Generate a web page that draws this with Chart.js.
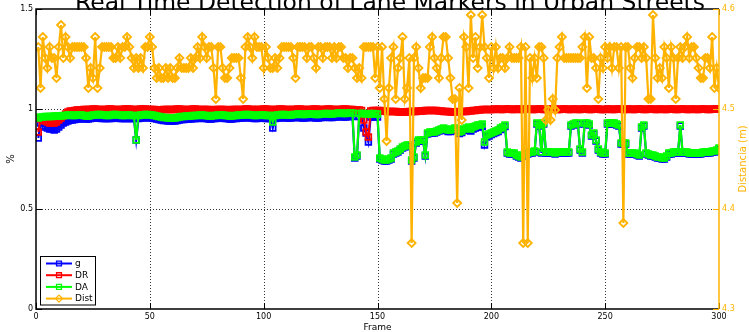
<!DOCTYPE html>
<html><head><meta charset="utf-8">
<script src="https://cdn.jsdelivr.net/npm/chart.js@4/dist/chart.umd.min.js"></script>
<style>html,body{margin:0;padding:0;background:#fff;overflow:hidden}#wrap{width:749px;height:332px;position:relative}</style>
</head><body><div id="wrap"><canvas id="c" width="749" height="332"></canvas></div>
<script>
const chartTitle = "Real Time Detection of Lane Markers in Urban Streets";
const xTitle = "Frame";
const yLeftTitle = "%";
const yRightTitle = "Distancia (m)";
const seriesNames = ["g", "DR", "DA", "Dist"];
const xTicks = [0, 50, 100, 150, 200, 250, 300];
const yLeftTicks = [0, 0.5, 1, 1.5];
const yRightTicks = [4.3, 4.4, 4.5, 4.6];
const frames = Array.from({length: 300}, (_, i) => i + 1);

const g = [
0.855,0.93,0.915,0.91,0.905,0.9,0.9,0.895,0.9,0.91,
0.92,0.93,0.935,0.94,0.945,0.945,0.948,0.95,0.95,0.952,
0.952,0.95,0.95,0.952,0.955,0.955,0.955,0.955,0.953,0.953,
0.952,0.952,0.953,0.955,0.955,0.955,0.953,0.952,0.952,0.953,
0.953,0.952,0.952,0.845,0.952,0.955,0.955,0.957,0.957,0.955,
0.955,0.952,0.95,0.948,0.945,0.943,0.942,0.94,0.94,0.94,
0.94,0.943,0.945,0.947,0.948,0.95,0.95,0.95,0.952,0.952,
0.952,0.955,0.955,0.953,0.952,0.95,0.95,0.952,0.953,0.955,
0.955,0.955,0.952,0.952,0.95,0.95,0.952,0.952,0.955,0.955,
0.955,0.957,0.957,0.955,0.955,0.952,0.952,0.955,0.955,0.955,
0.953,0.952,0.952,0.905,0.952,0.955,0.955,0.957,0.957,0.955,
0.955,0.955,0.957,0.957,0.958,0.958,0.955,0.955,0.958,0.958,
0.958,0.958,0.955,0.955,0.958,0.958,0.96,0.96,0.958,0.958,
0.96,0.96,0.962,0.962,0.96,0.96,0.962,0.962,0.962,0.755,
0.765,0.962,0.955,0.905,0.88,0.835,0.96,0.962,0.96,0.96,
0.75,0.745,0.74,0.74,0.745,0.75,0.775,0.78,0.785,0.795,
0.805,0.81,0.815,0.815,0.74,0.755,0.83,0.84,0.84,0.84,
0.765,0.875,0.88,0.88,0.88,0.885,0.89,0.895,0.9,0.893,
0.887,0.887,0.892,0.897,0.892,0.877,0.882,0.892,0.897,0.9,
0.89,0.9,0.905,0.91,0.91,0.912,0.82,0.86,0.865,0.872,
0.877,0.882,0.887,0.897,0.902,0.912,0.78,0.775,0.775,0.775,
0.765,0.76,0.755,0.765,0.775,0.775,0.78,0.78,0.785,0.925,
0.915,0.78,0.925,0.78,0.78,0.78,0.78,0.775,0.78,0.78,
0.78,0.78,0.78,0.78,0.915,0.92,0.925,0.925,0.795,0.78,
0.925,0.925,0.92,0.865,0.875,0.84,0.795,0.78,0.775,0.775,
0.925,0.925,0.925,0.925,0.92,0.915,0.825,0.825,0.825,0.775,
0.775,0.775,0.775,0.77,0.765,0.905,0.915,0.775,0.77,0.765,
0.765,0.76,0.755,0.755,0.75,0.75,0.76,0.775,0.775,0.78,
0.78,0.78,0.915,0.78,0.78,0.78,0.775,0.775,0.775,0.775,
0.775,0.775,0.78,0.78,0.78,0.78,0.785,0.785,0.79,0.8
];

const DR = [
0.885,0.95,0.945,0.94,0.935,0.93,0.93,0.93,0.935,0.945,
0.955,0.965,0.975,0.985,0.99,0.99,0.992,0.995,0.995,0.995,
0.997,0.997,0.998,0.998,1,1,0.998,0.998,0.997,0.997,
0.998,1,1,0.998,0.998,0.997,0.997,0.998,1,1,
1,0.998,0.998,0.997,0.998,1,1,1,0.998,0.998,
0.997,0.997,0.995,0.995,0.995,0.997,0.998,0.998,0.997,0.997,
0.998,1,1,0.998,0.998,0.997,0.997,0.998,1,1,
0.998,0.997,0.997,0.998,0.998,0.997,0.995,0.995,0.997,0.998,
0.998,0.997,0.997,0.995,0.995,0.997,0.998,0.998,0.997,0.997,
0.998,1,1,0.998,0.998,0.997,0.997,0.998,0.998,1,
1,0.998,0.998,0.997,0.997,0.998,1,1,0.998,0.998,
0.997,0.997,0.998,0.998,1,1,0.998,0.998,0.997,0.997,
0.998,1,1,0.998,0.998,0.997,0.998,1,1,0.998,
0.998,0.997,0.997,0.998,1,1,0.998,0.998,0.997,0.995,
0.995,0.995,0.993,0.945,0.885,0.86,0.99,0.993,0.993,0.993,
0.992,0.99,0.99,0.988,0.988,0.987,0.987,0.987,0.985,0.985,
0.985,0.985,0.985,0.987,0.987,0.988,0.988,0.99,0.99,0.99,
0.992,0.992,0.993,0.993,0.993,0.992,0.99,0.99,0.988,0.987,
0.987,0.985,0.985,0.985,0.985,0.987,0.987,0.988,0.988,0.99,
0.99,0.992,0.993,0.995,0.995,0.997,0.997,0.998,0.998,0.998,
0.998,1,1,0.998,0.998,1,1,1,0.998,0.998,
1,1,0.998,0.998,1,1,1,0.998,0.998,1,
1,1,0.998,0.998,0.998,1,1,1,0.998,0.998,
1,1,1,0.998,0.998,1,1,0.998,0.998,1,
1,1,0.998,0.998,1,1,1,0.998,0.998,0.998,
1,1,0.998,0.998,1,1,1,0.998,0.998,1,
1,0.998,0.998,1,1,1,0.998,0.998,1,1,
1,0.998,0.998,1,1,0.998,0.998,1,1,1,
0.998,0.998,1,1,1,0.998,0.998,1,1,0.998,
0.998,1,1,1,0.998,0.998,1,1,1,1
];

const DA = [
0.955,0.96,0.96,0.962,0.962,0.963,0.963,0.965,0.965,0.965,
0.965,0.968,0.968,0.97,0.97,0.968,0.968,0.97,0.97,0.97,
0.968,0.965,0.965,0.968,0.97,0.97,0.972,0.972,0.97,0.97,
0.968,0.968,0.97,0.972,0.972,0.97,0.97,0.968,0.968,0.97,
0.97,0.968,0.968,0.845,0.968,0.97,0.97,0.972,0.972,0.97,
0.97,0.968,0.965,0.962,0.96,0.958,0.958,0.955,0.955,0.955,
0.955,0.958,0.96,0.962,0.962,0.965,0.965,0.965,0.968,0.968,
0.968,0.97,0.97,0.968,0.968,0.965,0.965,0.968,0.968,0.97,
0.97,0.97,0.968,0.968,0.965,0.965,0.968,0.968,0.97,0.97,
0.97,0.972,0.972,0.97,0.97,0.968,0.968,0.97,0.97,0.97,
0.968,0.968,0.968,0.935,0.968,0.97,0.97,0.972,0.972,0.97,
0.97,0.97,0.972,0.972,0.975,0.975,0.972,0.972,0.975,0.975,
0.975,0.975,0.972,0.972,0.975,0.975,0.978,0.978,0.975,0.975,
0.978,0.978,0.98,0.98,0.978,0.978,0.98,0.98,0.98,0.76,
0.77,0.978,0.978,0.978,0.975,0.975,0.975,0.978,0.975,0.975,
0.755,0.75,0.745,0.745,0.75,0.755,0.78,0.785,0.79,0.80,
0.81,0.815,0.82,0.82,0.745,0.76,0.835,0.845,0.845,0.845,
0.77,0.88,0.885,0.885,0.885,0.89,0.895,0.9,0.905,0.9,
0.895,0.895,0.9,0.905,0.9,0.885,0.89,0.9,0.905,0.91,
0.9,0.91,0.915,0.92,0.92,0.925,0.835,0.87,0.875,0.88,
0.885,0.89,0.895,0.905,0.91,0.92,0.785,0.78,0.78,0.78,
0.77,0.765,0.76,0.77,0.78,0.78,0.785,0.785,0.79,0.93,
0.92,0.785,0.93,0.785,0.785,0.785,0.785,0.78,0.785,0.785,
0.785,0.785,0.785,0.785,0.92,0.925,0.93,0.93,0.8,0.785,
0.93,0.93,0.925,0.87,0.88,0.845,0.80,0.785,0.78,0.78,
0.93,0.93,0.93,0.93,0.925,0.92,0.83,0.83,0.83,0.78,
0.78,0.78,0.78,0.775,0.77,0.91,0.92,0.78,0.775,0.77,
0.77,0.765,0.76,0.76,0.755,0.755,0.765,0.78,0.78,0.785,
0.785,0.785,0.92,0.785,0.785,0.785,0.78,0.78,0.78,0.78,
0.78,0.78,0.785,0.785,0.785,0.785,0.79,0.79,0.795,0.805
];

const Dist = [
4.562,4.521,4.572,4.551,4.541,4.562,4.551,4.551,4.531,4.562,
4.584,4.551,4.572,4.562,4.551,4.562,4.562,4.562,4.562,4.562,
4.562,4.551,4.521,4.541,4.531,4.572,4.521,4.541,4.562,4.562,
4.562,4.562,4.562,4.551,4.551,4.562,4.551,4.562,4.562,4.572,
4.562,4.551,4.541,4.551,4.541,4.551,4.541,4.562,4.562,4.572,
4.562,4.541,4.531,4.541,4.531,4.531,4.541,4.531,4.541,4.531,
4.531,4.541,4.551,4.541,4.541,4.541,4.541,4.551,4.541,4.551,
4.562,4.551,4.572,4.562,4.551,4.562,4.562,4.541,4.51,4.562,
4.562,4.541,4.531,4.531,4.541,4.551,4.551,4.551,4.551,4.531,
4.51,4.562,4.572,4.562,4.551,4.572,4.562,4.562,4.562,4.541,
4.562,4.551,4.541,4.541,4.551,4.541,4.551,4.562,4.562,4.562,
4.562,4.562,4.551,4.531,4.562,4.562,4.562,4.562,4.551,4.562,
4.562,4.551,4.541,4.562,4.562,4.551,4.562,4.562,4.562,4.551,
4.562,4.551,4.562,4.562,4.551,4.551,4.541,4.551,4.551,4.541,
4.531,4.541,4.531,4.562,4.562,4.562,4.562,4.562,4.531,4.562,
4.521,4.562,4.51,4.468,4.521,4.551,4.562,4.51,4.541,4.551,
4.572,4.51,4.521,4.551,4.366,4.551,4.562,4.541,4.521,4.531,
4.531,4.531,4.562,4.572,4.551,4.541,4.531,4.551,4.572,4.572,
4.551,4.531,4.51,4.51,4.406,4.521,4.489,4.572,4.562,4.521,
4.594,4.551,4.572,4.541,4.562,4.594,4.562,4.551,4.531,4.562,
4.541,4.562,4.541,4.551,4.551,4.541,4.551,4.562,4.551,4.551,
4.551,4.551,4.562,4.366,4.562,4.366,4.551,4.531,4.551,4.531,
4.562,4.562,4.551,4.489,4.499,4.489,4.51,4.499,4.551,4.562,
4.572,4.551,4.551,4.551,4.551,4.551,4.551,4.551,4.551,4.562,
4.572,4.521,4.572,4.551,4.551,4.541,4.51,4.551,4.541,4.562,
4.551,4.562,4.541,4.562,4.562,4.541,4.562,4.386,4.562,4.562,
4.541,4.531,4.551,4.562,4.562,4.551,4.562,4.551,4.51,4.51,
4.594,4.551,4.531,4.541,4.531,4.562,4.551,4.521,4.562,4.551,
4.51,4.551,4.562,4.551,4.562,4.572,4.551,4.562,4.562,4.551,
4.541,4.531,4.531,4.551,4.551,4.541,4.572,4.521,4.541,4.521
];

const colors = {g: "#0000ff", DR: "#ff0000", DA: "#00ff00", Dist: "#ffb300"};
const FONT = '"DejaVu Sans", Verdana, sans-serif';

function mk(name, vals, axis, style, radius, order) {
  return {
    label: name,
    data: frames.map((f, i) => ({x: f, y: vals[i]})),
    yAxisID: axis,
    borderColor: colors[name],
    backgroundColor: colors[name],
    borderWidth: 2.2,
    pointStyle: style,
    pointRadius: radius,
    pointBorderWidth: 1.8,
    pointBorderColor: colors[name],
    pointBackgroundColor: "rgba(0,0,0,0)",
    tension: 0,
    fill: false,
    order: order
  };
}

function markerPath(ctx, style, x, y, r) {
  ctx.beginPath();
  if (style === "rect") {
    const s = Math.SQRT1_2 * r;
    ctx.rect(x - s, y - s, 2 * s, 2 * s);
  } else {
    ctx.moveTo(x - r, y); ctx.lineTo(x, y - r); ctx.lineTo(x + r, y); ctx.lineTo(x, y + r); ctx.closePath();
  }
}

const decor = {
  id: "decor",
  beforeDatasetsDraw(chart) {
    const {ctx, chartArea: a, scales} = chart;
    ctx.save();
    ctx.strokeStyle = "#333";
    ctx.lineWidth = 1;
    ctx.setLineDash([1, 2]);
    xTicks.slice(1, -1).forEach(v => {
      const px = Math.round(scales.x.getPixelForValue(v)) + 0.5;
      ctx.beginPath(); ctx.moveTo(px, a.top); ctx.lineTo(px, a.bottom); ctx.stroke();
    });
    yLeftTicks.slice(1, -1).forEach(v => {
      const py = Math.round(scales.y.getPixelForValue(v)) + 0.5;
      ctx.beginPath(); ctx.moveTo(a.left, py); ctx.lineTo(a.right, py); ctx.stroke();
    });
    ctx.restore();
  },
  afterDatasetsDraw(chart) {
    const {ctx, chartArea: a, scales} = chart;
    ctx.save();
    ctx.setLineDash([]);
    ctx.lineWidth = 1.5;
    ctx.strokeStyle = "#000";
    ctx.beginPath();
    ctx.moveTo(a.right, a.top); ctx.lineTo(a.left, a.top); ctx.lineTo(a.left, a.bottom); ctx.lineTo(a.right, a.bottom);
    ctx.stroke();
    const tl = 6;
    ctx.lineWidth = 1;
    xTicks.forEach(v => {
      const px = Math.round(scales.x.getPixelForValue(v)) + 0.5;
      ctx.beginPath(); ctx.moveTo(px, a.bottom); ctx.lineTo(px, a.bottom - tl);
      ctx.moveTo(px, a.top); ctx.lineTo(px, a.top + tl); ctx.stroke();
    });
    yLeftTicks.forEach(v => {
      const py = Math.round(scales.y.getPixelForValue(v)) + 0.5;
      ctx.beginPath(); ctx.moveTo(a.left, py); ctx.lineTo(a.left + tl, py); ctx.stroke();
    });
    ctx.strokeStyle = colors.Dist;
    ctx.lineWidth = 1.5;
    ctx.beginPath(); ctx.moveTo(a.right, a.top); ctx.lineTo(a.right, a.bottom); ctx.stroke();
    ctx.lineWidth = 1;
    yRightTicks.forEach(v => {
      const py = Math.round(scales.y2.getPixelForValue(v)) + 0.5;
      ctx.beginPath(); ctx.moveTo(a.right, py); ctx.lineTo(a.right - tl, py); ctx.stroke();
    });
    ctx.restore();
  },
  afterDraw(chart) {
    const {ctx, chartArea: a} = chart;
    ctx.save();
    let fs = 23;
    ctx.font = fs + "px " + FONT;
    const w = ctx.measureText(chartTitle).width;
    fs = fs * 630 / w;
    ctx.font = fs.toFixed(2) + "px " + FONT;
    ctx.fillStyle = "#000";
    ctx.textAlign = "center";
    ctx.textBaseline = "alphabetic";
    ctx.fillText(chartTitle, 390, 10);
    ctx.font = "9px " + FONT;
    ctx.fillText(xTitle, (a.left + a.right) / 2, 330);
    ctx.save();
    ctx.translate(14, (a.top + a.bottom) / 2);
    ctx.rotate(-Math.PI / 2);
    ctx.font = "10px " + FONT;
    ctx.fillText(yLeftTitle, 0, 0);
    ctx.restore();
    ctx.save();
    ctx.translate(746, (a.top + a.bottom) / 2);
    ctx.rotate(-Math.PI / 2);
    ctx.font = "10px " + FONT;
    ctx.fillStyle = colors.Dist;
    ctx.fillText(yRightTitle, 0, 0);
    ctx.restore();
    const bx = 40.5, by = 256.5, bw = 55, bh = 48.5;
    ctx.fillStyle = "#fff";
    ctx.fillRect(bx, by, bw, bh);
    ctx.strokeStyle = "#000";
    ctx.lineWidth = 1;
    ctx.strokeRect(bx, by, bw, bh);
    const styles = ["rect", "rect", "rect", "rectRot"];
    ctx.font = "9px " + FONT;
    ctx.textAlign = "left";
    ctx.textBaseline = "middle";
    seriesNames.forEach((n, i) => {
      const y = 263.5 + i * 11.7;
      ctx.strokeStyle = colors[n];
      ctx.lineWidth = 2;
      ctx.beginPath(); ctx.moveTo(46, y); ctx.lineTo(72, y); ctx.stroke();
      ctx.lineWidth = 1.3;
      markerPath(ctx, styles[i], 59, y, 3.5);
      ctx.stroke();
      ctx.fillStyle = "#000";
      ctx.fillText(n, 75, y + 0.5);
    });
    ctx.restore();
  }
};

new Chart(document.getElementById("c"), {
  type: "line",
  data: {
    datasets: [
      mk("g", g, "y", "rect", 4, 3),
      mk("DR", DR, "y", "rect", 4, 2),
      mk("DA", DA, "y", "rect", 4, 1),
      mk("Dist", Dist, "y2", "rectRot", 4, 0)
    ]
  },
  options: {
    responsive: false,
    animation: false,
    devicePixelRatio: 1,
    layout: {padding: {top: 9, left: 0, right: 0, bottom: 0}},
    plugins: {legend: {display: false}, tooltip: {enabled: false}, title: {display: false}},
    scales: {
      x: {
        type: "linear", min: 0, max: 300,
        grid: {display: false, drawTicks: false},
        border: {display: false},
        afterBuildTicks: s => { s.ticks = xTicks.map(v => ({value: v})); },
        afterFit: s => { s.height = 23; },
        ticks: {color: "#000", font: {family: FONT, size: 8}, padding: 3, maxRotation: 0, autoSkip: false}
      },
      y: {
        type: "linear", position: "left", min: 0, max: 1.5,
        grid: {display: false, drawTicks: false},
        border: {display: false},
        afterBuildTicks: s => { s.ticks = yLeftTicks.map(v => ({value: v})); },
        afterFit: s => { s.width = 36; },
        ticks: {color: "#000", font: {family: FONT, size: 8}, padding: 3, callback: v => String(v)}
      },
      y2: {
        type: "linear", position: "right", min: 4.3, max: 4.6,
        grid: {display: false, drawTicks: false},
        border: {display: false},
        afterBuildTicks: s => { s.ticks = yRightTicks.map(v => ({value: v})); },
        afterFit: s => { s.width = 30; },
        ticks: {color: colors.Dist, font: {family: FONT, size: 8}, padding: 3, callback: v => Number(v).toFixed(1)}
      }
    }
  },
  plugins: [decor]
});
</script>
</body></html>
